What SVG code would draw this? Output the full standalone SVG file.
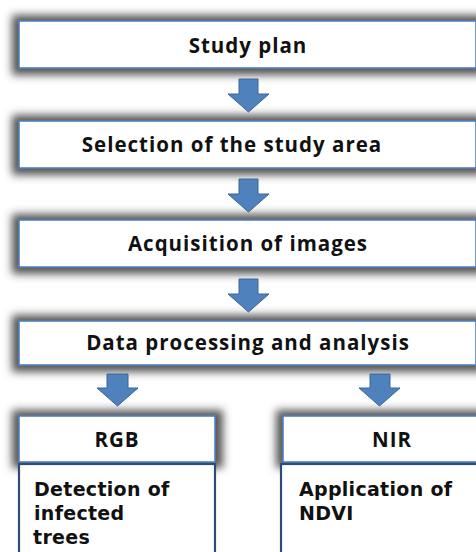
<svg xmlns="http://www.w3.org/2000/svg" width="476" height="552" viewBox="0 0 476 552">
<style>
.box{fill:#ffffff;stroke:#4F81BD;stroke-width:1.6}
.sub{fill:#ffffff;stroke:#2C4D75;stroke-width:2.2}
.sh{fill:#555555;filter:url(#blur)}
.t{font-family:"Open Sans","Noto Sans","DejaVu Sans",sans-serif;font-weight:bold;font-size:20.5px;letter-spacing:1px;fill:#111111;text-anchor:middle}
.tl{font-family:"DejaVu Sans","Open Sans",sans-serif;font-weight:bold;font-size:19px;letter-spacing:0.3px;fill:#111111}
.arr{fill:#4F81BD;stroke:#3A659A;stroke-width:1}
</style>
<defs>
<filter id="blur" x="-20%" y="-40%" width="140%" height="180%"><feGaussianBlur stdDeviation="4"/></filter>
</defs>
<rect width="476" height="552" fill="#ffffff"/>
<g id="n1">
<rect class="sh" x="12" y="15" width="472" height="60"/>
<rect class="box" x="19" y="21" width="457" height="47"/>
<text class="t" x="248" y="53">Study plan</text>
</g>
<g id="n2">
<rect class="sh" x="12" y="115" width="472" height="60"/>
<rect class="box" x="19" y="121" width="457" height="47"/>
<text class="t" x="232" y="152">Selection of the study area</text>
</g>
<g id="n3">
<rect class="sh" x="12" y="214" width="472" height="60"/>
<rect class="box" x="19" y="220" width="457" height="47"/>
<text class="t" x="248" y="251">Acquisition of images</text>
</g>
<g id="n4">
<rect class="sh" x="12" y="315" width="472" height="57"/>
<rect class="box" x="19" y="321" width="457" height="44"/>
<text class="t" x="248" y="350">Data processing and analysis</text>
</g>
<g id="rgb">
<rect class="sh" x="12" y="410" width="211" height="58"/>
<rect class="box" x="19" y="416" width="196" height="46"/>
<text class="t" x="117" y="447">RGB</text>
</g>
<g id="nir">
<rect class="sh" x="276" y="410" width="212" height="58"/>
<rect class="box" x="283" y="416" width="200" height="46"/>
<text class="t" x="392" y="447">NIR</text>
</g>
<g id="rgb-detail">
<rect class="sub" x="19" y="464" width="196" height="100"/>
<text class="tl" x="34" y="496">Detection of</text>
<text class="tl" x="34" y="520">infected</text>
<text class="tl" x="33" y="544">trees</text>
</g>
<g id="nir-detail">
<rect class="sub" x="281" y="464" width="200" height="100"/>
<text class="tl" x="299" y="496">Application of</text>
<text class="tl" x="299" y="520">NDVI</text>
</g>
<g id="connectors">
<polygon class="arr" points="239,79 258,79 258,94 269,94 248.5,112 228,94 239,94"/>
<polygon class="arr" points="239,179 258,179 258,194 269,194 248.5,212 228,194 239,194"/>
<polygon class="arr" points="239,279 258,279 258,294 269,294 248.5,312 228,294 239,294"/>
<polygon class="arr" points="107,374 128,374 128,388 138,388 117.5,406 97,388 107,388"/>
<polygon class="arr" points="370,374 390,374 390,388 400,388 379.5,406 359,388 370,388"/>
</g>
</svg>
